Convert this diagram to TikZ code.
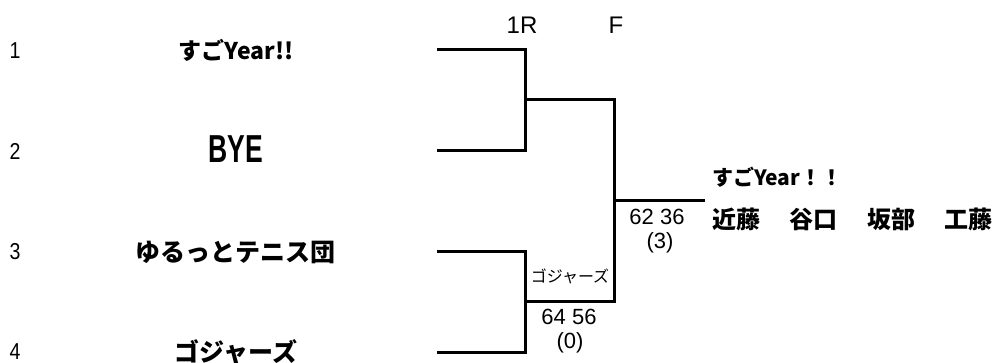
\documentclass[tikz,border=0pt]{standalone}
\usepackage{fontspec}
\newfontfamily\jp{Noto Sans CJK JP}
\newfontfamily\ls{Liberation Sans}
\tikzset{
  br/.style={line width=3pt, line join=miter},
  lbl/.style={inner sep=0pt, anchor=center},
  seed/.style={lbl, font=\ls\fontsize{23}{23}\selectfont, xscale=0.85},
  team/.style={lbl, font=\jp\bfseries\fontsize{25}{25}\selectfont},
  rnd/.style={lbl, font=\ls\fontsize{24}{24}\selectfont},
  score/.style={lbl, font=\ls\fontsize{22}{22}\selectfont},
}
\begin{document}
\begin{tikzpicture}[x=1pt,y=-1pt]
\useasboundingbox[fill=white] (0,0) rectangle (995,363);
% seeds
\node[seed] (n1) at (15,51) {1};
\node[seed] (n2) at (15,151) {2};
\node[seed] (n3) at (15,252) {3};
\node[seed] (n4) at (15,352) {4};
% teams
\node[team, font=\jp\bfseries\fontsize{23}{23}\selectfont] (t1) at (236,50) {すごYear!!};
\node[lbl] (t2) at (236,149) {\scalebox{0.68}[1]{\ls\bfseries\fontsize{39}{39}\selectfont BYE}};
\node[team] (t3) at (235,252) {ゆるっとテニス団};
\node[team] (t4) at (236,352) {ゴジャーズ};
% round labels
\node[rnd] (r1) at (522,25) {1R};
\node[rnd] (rf) at (616,25) {F};
% bracket points
\coordinate (a1) at (437,50);
\coordinate (b1) at (525,50);
\coordinate (a2) at (437,151);
\coordinate (b2) at (525,151);
\coordinate (a3) at (437,252);
\coordinate (b3) at (525,252);
\coordinate (a4) at (437,352);
\coordinate (b4) at (525,352);
\coordinate (m1) at (525,100);
\coordinate (c1) at (614,100);
\coordinate (m2) at (525,301);
\coordinate (c2) at (614,301);
\coordinate (f) at (614,201);
\coordinate (w) at (705,201);
\draw[br] (a1) -- (b1) -- (b2) -- (a2);
\draw[br] (a3) -- (b3) -- (b4) -- (a4);
\draw[br] (m1) -- (c1) -- (c2) -- (m2);
\draw[br] (f) -- (w);
% results
\node[lbl, font=\jp\fontsize{16}{16}\selectfont] (g1) at (570,276) {ゴジャーズ};
\node[score] (s1) at (569,317) {64 56};
\node[score] (p1) at (570,343) {(0)};
\node[score] (s2) at (657,217) {62 36};
\node[score] (p2) at (660,243) {(3)};
% winner
\node[lbl, anchor=west, font=\jp\bfseries\fontsize{21}{21}\selectfont] (win) at (712,177) {すごYear！！};
\node[lbl, anchor=west, font=\jp\bfseries\fontsize{24}{24}\selectfont] (mem) at (712,219) {近藤\hspace{29.5pt}谷口\hspace{29.5pt}坂部\hspace{29.5pt}工藤};
\end{tikzpicture}
\end{document}
